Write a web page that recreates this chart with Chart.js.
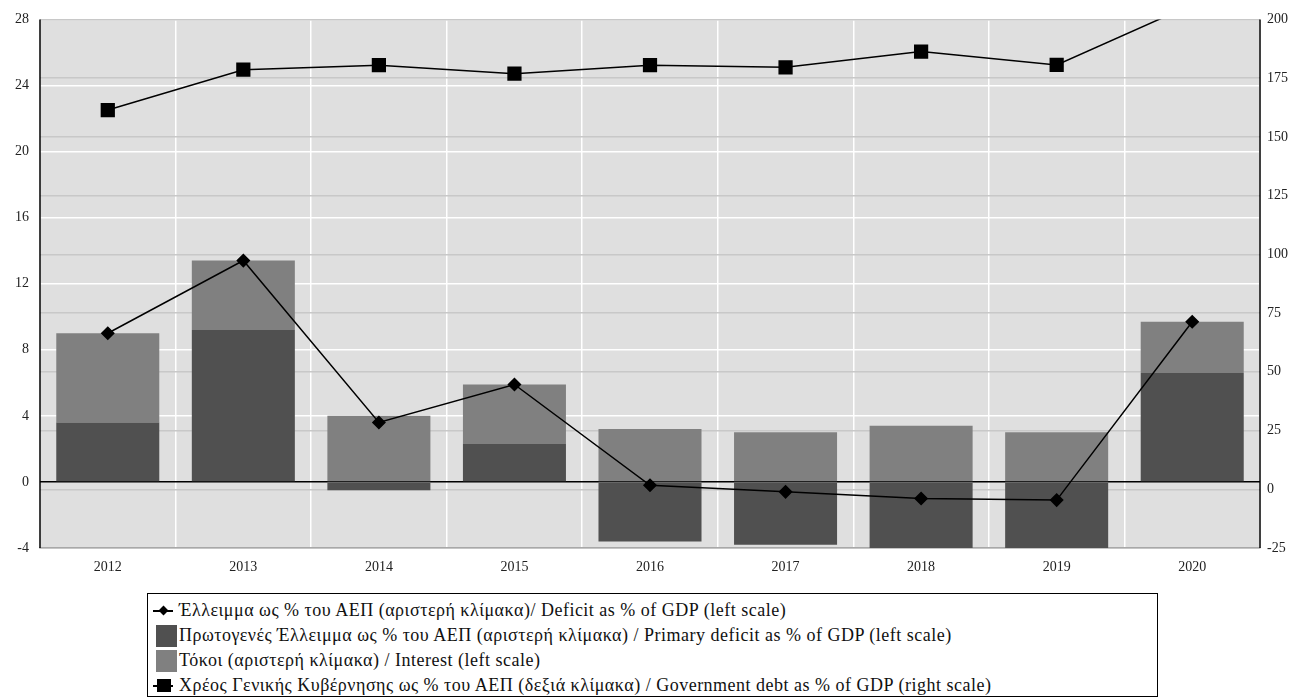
<!DOCTYPE html>
<html>
<head>
<meta charset="utf-8">
<script src="https://cdn.jsdelivr.net/npm/chart.js@4.4.0/dist/chart.umd.min.js"></script>
<style>
  body { margin: 0; background: #fff; }
  #wrap { position: relative; width: 1295px; height: 700px; }
  #chart-box { position: absolute; left: 0; top: 0; width: 1295px; height: 580px; }
  #legend {
    position: absolute; left: 147px; top: 593px; width: 1011px; height: 104px;
    border: 1px solid #000; box-sizing: border-box; padding-top: 4px;
    font-family: "Liberation Serif", "DejaVu Serif", serif; font-size: 18px; letter-spacing: 0.5px; color: #111;
  }
  .row { height: 25px; display: flex; align-items: center; white-space: nowrap; }
  .icon { width: 30px; height: 22px; position: relative; flex: none; }
  .box { position: absolute; left: 8px; top: 0; width: 21px; height: 22px; }
  .ln { position: absolute; left: 5px; top: 10px; width: 20px; height: 2px; background: #000; }
  .dia { position: absolute; left: 12px; top: 7px; width: 7px; height: 7px; background: #000; transform: rotate(45deg); }
  .sq { position: absolute; left: 9px; top: 4px; width: 14px; height: 13px; background: #000; }
</style>
</head>
<body>
<div id="wrap">
  <div id="chart-box"><canvas id="myChart"></canvas></div>
  <div id="legend"></div>
</div>
<script>
var years = ["2012", "2013", "2014", "2015", "2016", "2017", "2018", "2019", "2020"];
var deficit = [9.0, 13.4, 3.6, 5.9, -0.2, -0.6, -1.0, -1.1, 9.7];
var primaryDeficit = [3.6, 9.2, -0.5, 2.3, -3.6, -3.8, -4.4, -4.1, 6.6];
var interest = [5.4, 4.2, 4.0, 3.6, 3.2, 3.0, 3.4, 3.0, 3.1];
var debt = [161.4, 178.6, 180.5, 176.9, 180.5, 179.6, 186.3, 180.6, 206.3];

var labels = {
    deficit: "Έλλειμμα ως % του ΑΕΠ (αριστερή κλίμακα)/ Deficit as % of GDP (left scale)",
    primary: "Πρωτογενές Έλλειμμα ως % του ΑΕΠ (αριστερή κλίμακα) / Primary deficit as % of GDP (left scale)",
    interest: "Τόκοι (αριστερή κλίμακα) / Interest (left scale)",
    debt: "Χρέος Γενικής Κυβέρνησης ως % του ΑΕΠ (δεξιά κλίμακα) / Government debt as % of GDP (right scale)"
};

var tickFont = { family: "'Liberation Serif', 'DejaVu Serif', serif", size: 14 };

// grey plot area, and the black side borders
var plotBackground = {
    id: "plotBackground",
    beforeDraw: function (chart) {
        var a = chart.chartArea;
        var ctx = chart.ctx;
        ctx.save();
        ctx.fillStyle = "#dfdfdf";
        ctx.fillRect(a.left, a.top, a.right - a.left, a.bottom - a.top);
        ctx.restore();
    },
    afterDraw: function (chart) {
        var a = chart.chartArea;
        var ctx = chart.ctx;
        ctx.save();
        ctx.strokeStyle = "#000";
        ctx.lineWidth = 1.5;
        ctx.beginPath();
        ctx.moveTo(a.left, a.top);
        ctx.lineTo(a.left, a.bottom);
        ctx.moveTo(a.right, a.top);
        ctx.lineTo(a.right, a.bottom);
        ctx.stroke();
        ctx.restore();
    }
};

var chart = new Chart(document.getElementById("myChart"), {
    type: "bar",
    data: {
        labels: years,
        datasets: [
            {
                type: "line",
                label: labels.deficit,
                data: deficit,
                yAxisID: "y",
                stack: "deficitLine",
                borderColor: "#000",
                borderWidth: 1.5,
                pointStyle: "rectRot",
                pointRadius: 6,
                pointBackgroundColor: "#000",
                pointBorderColor: "#000",
                order: 0,
            },
            {
                label: labels.primary,
                data: primaryDeficit,
                yAxisID: "y",
                stack: "bars",
                backgroundColor: "#505050",
                order: 2,
            },
            {
                label: labels.interest,
                data: interest,
                yAxisID: "y",
                stack: "bars",
                backgroundColor: "#808080",
                order: 2,
            },
            {
                type: "line",
                label: labels.debt,
                data: debt,
                yAxisID: "y2",
                borderColor: "#000",
                borderWidth: 1.5,
                pointStyle: "rect",
                pointRadius: 9,
                pointBackgroundColor: "#000",
                pointBorderColor: "#000",
                order: 0,
            },
        ],
    },
    options: {
        responsive: true,
        maintainAspectRatio: false,
        animation: false,
        layout: { padding: { top: 19, left: 0, right: 0, bottom: 0 } },
        datasets: { bar: { categoryPercentage: 1, barPercentage: 0.76 } },
        plugins: {
            legend: { display: false },
            tooltip: { enabled: false },
        },
        scales: {
            x: {
                stacked: true,
                grid: { color: "#ffffff", lineWidth: 1.5, drawTicks: false },
                border: { color: "#a8a8a8", width: 1.5 },
                ticks: { font: tickFont, color: "#222", padding: 11 },
                afterFit: function (s) { s.height = 32; },
            },
            y: {
                stacked: true,
                min: -4,
                max: 28,
                ticks: { stepSize: 4, font: tickFont, color: "#222", padding: 11 },
                grid: {
                    drawTicks: false,
                    lineWidth: 1.5,
                    color: function (c) { return c.tick && c.tick.value === 0 ? "#000" : "#ffffff"; },
                },
                border: { display: false },
                afterFit: function (s) { s.width = 40; },
            },
            y2: {
                position: "right",
                min: -25,
                max: 200,
                ticks: { stepSize: 25, font: tickFont, color: "#222", padding: 7 },
                grid: { color: "#c8c8c8", lineWidth: 1.5, drawTicks: false },
                border: { display: false },
                afterFit: function (s) { s.width = 35; },
            },
        },
    },
    plugins: [plotBackground],
});

// html legend built from the datasets
var legendOrder = [0, 1, 2, 3];
var $legend = document.getElementById("legend");
legendOrder.forEach(function (i) {
    var ds = chart.data.datasets[i];
    var row = document.createElement("div");
    row.className = "row";
    var icon = document.createElement("span");
    icon.className = "icon";
    if (ds.type === "line") {
        icon.innerHTML = '<span class="ln"></span>' +
            (ds.pointStyle === "rect" ? '<span class="sq"></span>' : '<span class="dia"></span>');
    } else {
        icon.innerHTML = '<span class="box" style="background:' + ds.backgroundColor + '"></span>';
    }
    var text = document.createElement("span");
    text.textContent = ds.label;
    text.style.marginLeft = "1px";
    row.appendChild(icon);
    row.appendChild(text);
    $legend.appendChild(row);
});
</script>
</body>
</html>
